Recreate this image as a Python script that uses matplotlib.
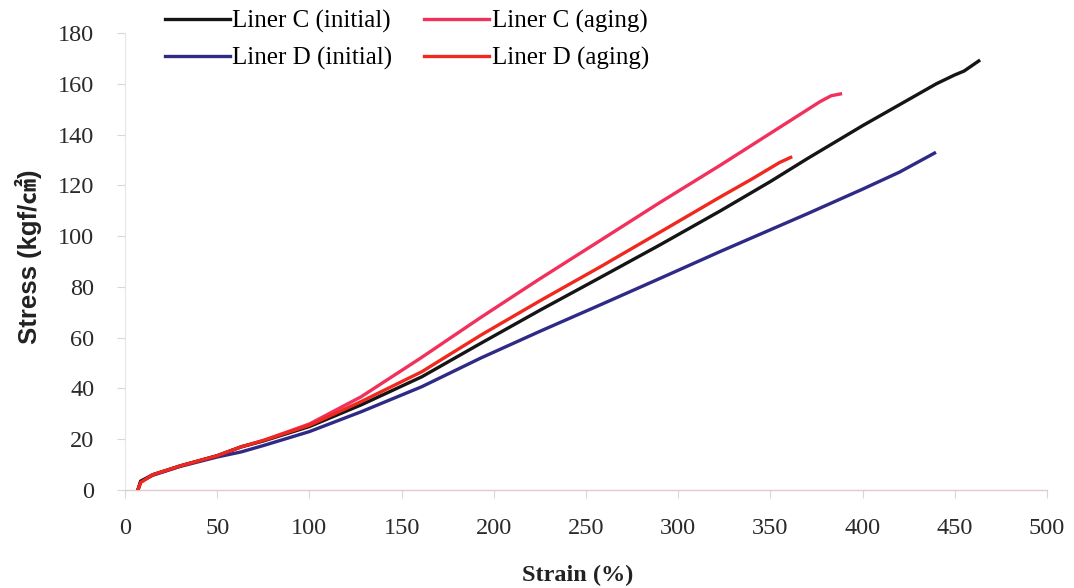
import matplotlib
matplotlib.use("Agg")
import matplotlib.pyplot as plt

# Data
c_init_x = [7, 8.5, 15, 30, 50, 63, 75, 100, 128, 161, 193, 225, 258, 290, 323, 350, 370, 400, 440, 450, 455, 463]
c_init_y = [0, 3.5, 6, 9.5, 13.5, 17, 19.3, 25, 33.5, 44.6, 57.8, 70.8, 83.8, 96.5, 110, 121.5, 130.5, 143.5, 160, 163.5, 165, 169]

d_init_x = [7, 8.5, 15, 30, 50, 63, 75, 100, 128, 161, 193, 225, 258, 290, 323, 370, 400, 420, 439]
d_init_y = [0, 3.3, 5.8, 9.3, 13, 15, 17.5, 23, 30.8, 40.7, 52, 62.5, 73, 83.3, 94, 108.8, 118.5, 125.2, 132.7]

c_aging_x = [7, 8.5, 15, 30, 50, 63, 75, 100, 128, 160, 193, 225, 258, 290, 323, 350, 377, 383, 388]
c_aging_y = [0, 3, 6, 9.5, 13.5, 17, 19.5, 26, 36.7, 51.8, 68, 83.2, 98.4, 113.2, 128, 140.5, 153, 155.3, 156]

d_aging_x = [7, 8.5, 15, 30, 50, 63, 75, 100, 128, 161, 193, 225, 258, 290, 323, 340, 355, 361]
d_aging_y = [0, 3, 6, 9.5, 13.5, 17, 19.5, 25.5, 34.8, 46.6, 61, 74.5, 88, 101.5, 115.5, 122.5, 129, 131]

x_ticks = [0, 50, 100, 150, 200, 250, 300, 350, 400, 450, 500]
y_ticks = [0, 20, 40, 60, 80, 100, 120, 140, 160, 180]

serif = ["Liberation Serif", "DejaVu Serif"]

fig = plt.figure(figsize=(10.74, 5.88), dpi=100)
ax = fig.add_axes([125/1074, 1-490/588, (1047-125)/1074, (490-33)/588])

lw = 2.4
ax.plot(c_init_x, c_init_y, color="#151515", lw=lw, label="Liner C (initial)", zorder=3)
ax.plot(d_init_x, d_init_y, color="#2e2a86", lw=lw, label="Liner D (initial)", zorder=2)
ax.plot(c_aging_x, c_aging_y, color="#f2305c", lw=lw, label="Liner C (aging)", zorder=2)
ax.plot(d_aging_x, d_aging_y, color="#f0281e", lw=lw, label="Liner D (aging)", zorder=4)

ax.set_xlim(0, 500)
ax.set_ylim(0, 180)
ax.set_xticks(x_ticks)
ax.set_yticks(y_ticks)

for s in ["top", "right"]:
    ax.spines[s].set_visible(False)
ax.spines["left"].set_color("#e6e6e6")
ax.spines["bottom"].set_color("#e2c8cc")
ax.spines["left"].set_linewidth(0.8)
ax.spines["bottom"].set_linewidth(1.0)

ax.tick_params(axis="y", direction="out", length=6, color="#d8d8d8", pad=16, labelsize=17.5, labelcolor="#2a2a2a")
ax.tick_params(axis="x", direction="out", length=6, color="#d8d8d8", pad=14, labelsize=17.5, labelcolor="#2a2a2a")
for lab in ax.get_xticklabels() + ax.get_yticklabels():
    lab.set_family(serif)

ax.set_xlabel("Strain (%)", family=serif, fontsize=17.5, fontweight="bold", color="#222222")
ax.xaxis.set_label_coords(0.491, -0.164)
ax.set_ylabel("Stress (kgf/㎠)", family=["Liberation Sans", "Noto Sans CJK KR", "DejaVu Sans"],
              fontsize=18.5, fontweight="bold", color="#222222", ha="center", va="center")
ax.yaxis.set_label_coords(-0.105, 0.51)

handles, labels = ax.get_legend_handles_labels()
leg = ax.legend(handles, labels,
                loc="upper left", bbox_to_anchor=(0.043, 1.05), ncol=2, frameon=False,
                prop={"family": serif, "size": 18}, handlelength=2.6, handletextpad=0.1,
                columnspacing=1.28, labelspacing=0.55, borderaxespad=0, borderpad=0)

fig.savefig("out.png", dpi=100, facecolor="white")
